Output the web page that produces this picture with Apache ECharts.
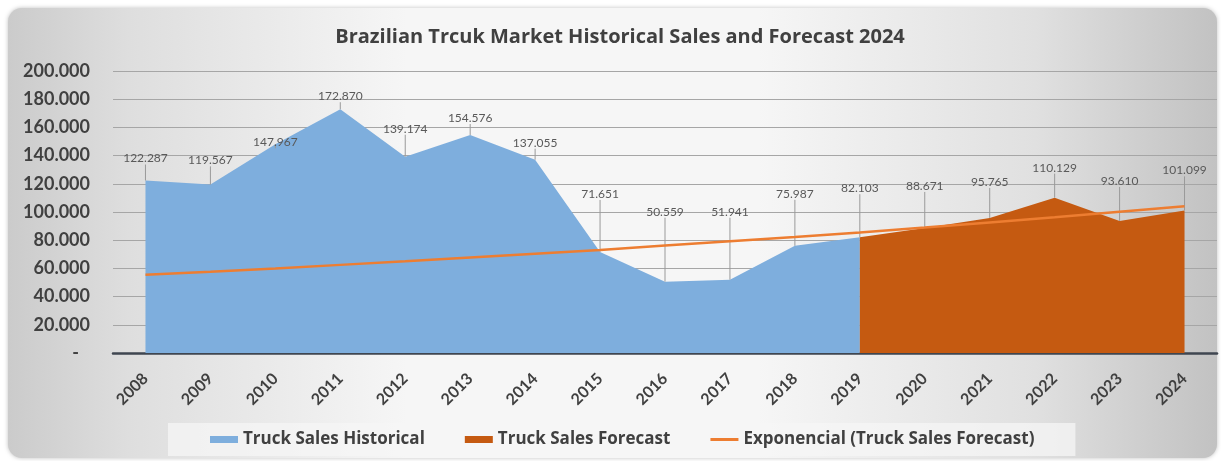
<!DOCTYPE html>
<html>
<head>
<meta charset="utf-8">
<title>Brazilian Truck Market</title>
<script src="https://cdn.jsdelivr.net/npm/echarts@6/dist/echarts.min.js"></script>
<style>
  html, body { margin: 0; padding: 0; background: #ffffff; }
  #chart { width: 1221px; height: 461px; }
</style>
</head>
<body>
<div id="chart"></div>
<script>
// Years on the category axis
const years = ['2008','2009','2010','2011','2012','2013','2014','2015','2016',
               '2017','2018','2019','2020','2021','2022','2023','2024'];

// Historical sales, 2008–2019
const historical = [122287, 119567, 147967, 172870, 139174, 154576, 137055,
                    71651, 50559, 51941, 75987, 82103];

// Forecast sales, 2019–2024 (starts at the last historical year)
const forecastYears = ['2019','2020','2021','2022','2023','2024'];
const forecast = [82103, 88671, 95765, 110129, 93610, 101099];

// Exponential trend line values per year
const trend = [55500, 57700, 60000, 62500, 65000, 67700, 70400, 73000, 76200,
               79300, 82200, 85500, 89000, 92600, 96300, 100200, 104000];

// Y axis ticks
const yMax = 200000;
const yStep = 20000;

// Label styling: how far each value label sits above its point (px)
const labelLift = [23, 25, 3, 14, 29, 18, 18, 59, 71, 69, 53, 50, 43, 37, 31, 41, 41];

const FONT = 'Lato, "Open Sans", sans-serif';
const WIDE = '"Open Sans", Lato, sans-serif';
const TEXT = '#404040';

function fmt(v) {
  return String(v).replace(/\B(?=(\d{3})+(?!\d))/g, '.');
}

const histData = years.map((y, i) => (i < historical.length ? historical[i] : null));
const fcData = years.map(y => {
  const k = forecastYears.indexOf(y);
  if (k < 0) return null;
  // the first forecast point shares its label with the historical series
  return k === 0 ? { value: forecast[k], label: { show: false } } : forecast[k];
});

const chart = echarts.init(document.getElementById('chart'), null, { renderer: 'canvas' });

const valueLabel = {
  show: true,
  position: 'top',
  distance: 0,
  fontFamily: FONT,
  fontSize: 12,
  color: '#595959',
  formatter: p => fmt(p.value)
};

const labelLayout = p => ({ dy: -(labelLift[p.dataIndex] - 7) });

const guide = { show: true, lineStyle: { color: '#9a9a9a', width: 1 } };

chart.setOption({
  animation: false,
  textStyle: { fontFamily: FONT },
  graphic: [
    {
      type: 'rect',
      z: -10,
      silent: true,
      shape: { x: 8, y: 8, width: 1209, height: 450, r: 14 },
      style: {
        fill: new echarts.graphic.LinearGradient(0, 0, 1, 0, [
          { offset: 0, color: '#cbcbcb' },
          { offset: 0.1, color: '#dedede' },
          { offset: 0.33, color: '#f6f6f6' },
          { offset: 0.62, color: '#f6f6f6' },
          { offset: 0.85, color: '#e0e0e0' },
          { offset: 1, color: '#c2c2c2' }
        ]),
        shadowBlur: 4,
        shadowColor: 'rgba(0,0,0,0.25)'
      }
    },
    {
      type: 'text',
      silent: true,
      x: 620,
      y: 37,
      style: {
        text: 'Brazilian Trcuk Market Historical Sales and Forecast 2024',
        align: 'center',
        verticalAlign: 'middle',
        fontFamily: WIDE,
        fontSize: 20,
        fontWeight: 'bold',
        fill: TEXT
      }
    }
  ],
  grid: { left: 113, right: 4, top: 71, bottom: 108, containLabel: false },
  legend: {
    left: 168,
    top: 423,
    padding: [8, 41, 8, 42],
    itemGap: 40,
    itemWidth: 28,
    itemHeight: 7,
    backgroundColor: 'rgba(245,245,245,0.75)',
    textStyle: { fontFamily: WIDE, fontSize: 17, fontWeight: 'bold', color: TEXT },
    data: [
      { name: 'Truck Sales Historical', icon: 'rect' },
      { name: 'Truck Sales Forecast', icon: 'rect' },
      { name: 'Exponencial (Truck Sales Forecast)', icon: 'path://M0,0 L28,0 L28,3 L0,3 Z' }
    ]
  },
  xAxis: {
    type: 'category',
    data: years,
    boundaryGap: true,
    axisLine: { show: true, lineStyle: { color: '#3f4650', width: 2.5 } },
    axisTick: { show: false },
    axisLabel: {
      rotate: 45,
      margin: 23,
      fontFamily: FONT,
      fontSize: 16,
      fontWeight: 'bold',
      color: TEXT
    },
    splitLine: { show: false }
  },
  yAxis: {
    type: 'value',
    min: 0,
    max: yMax,
    interval: yStep,
    axisLine: { show: false },
    axisTick: { show: false },
    splitLine: { lineStyle: { color: '#a6a6a6', width: 1 } },
    axisLabel: {
      margin: 23,
      fontFamily: FONT,
      fontSize: 18,
      fontWeight: 'bold',
      color: TEXT,
      formatter: v => (v === 0 ? '{dash|-}' : fmt(v)),
      rich: {
        dash: { fontFamily: FONT, fontSize: 18, fontWeight: 'bold', color: TEXT, padding: [0, 11, 0, 0] }
      }
    }
  },
  series: [
    {
      name: 'Truck Sales Historical',
      type: 'line',
      data: histData,
      symbol: 'circle',
      symbolSize: 0.1,
      showSymbol: true,
      itemStyle: { color: '#7eaedd' },
      lineStyle: { width: 0 },
      areaStyle: { color: '#7eaedd', opacity: 1 },
      label: valueLabel,
      labelLine: guide,
      labelLayout: labelLayout,
      z: 2
    },
    {
      name: 'Truck Sales Forecast',
      type: 'line',
      data: fcData,
      symbol: 'circle',
      symbolSize: 0.1,
      showSymbol: true,
      itemStyle: { color: '#c55a11' },
      lineStyle: { width: 0 },
      areaStyle: { color: '#c55a11', opacity: 1 },
      label: valueLabel,
      labelLine: guide,
      labelLayout: labelLayout,
      z: 2
    },
    {
      name: 'Exponencial (Truck Sales Forecast)',
      type: 'line',
      data: trend,
      symbol: 'none',
      itemStyle: { color: '#ed7d31' },
      lineStyle: { color: '#ed7d31', width: 2.5 },
      z: 3
    }
  ]
});
</script>
</body>
</html>
